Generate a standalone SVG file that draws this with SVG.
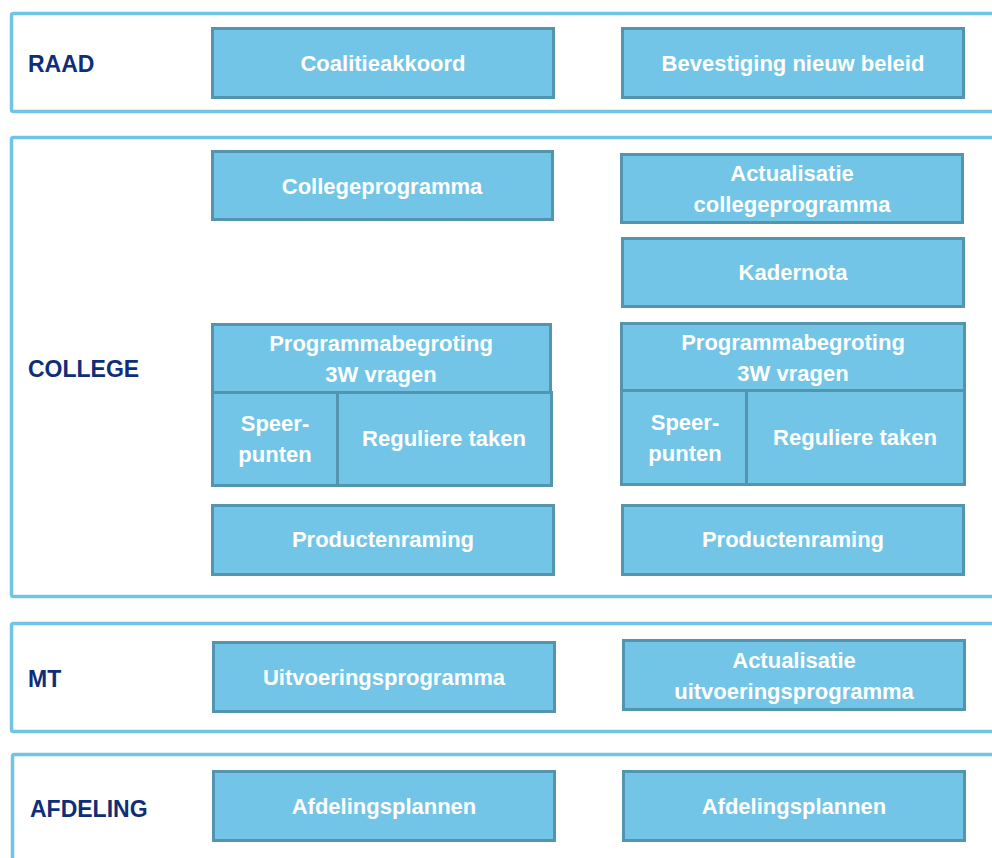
<svg xmlns="http://www.w3.org/2000/svg" width="992" height="858" viewBox="0 0 992 858">
<style>
.band{fill:#fff;stroke:#70C4E4;stroke-width:3.5}
.node rect{fill:#72C5E6;stroke:#5395AE;stroke-width:3}
.node text{fill:#fff;font-family:"Liberation Sans",Arial,sans-serif;font-weight:bold;font-size:22px;text-anchor:middle}
.lbl{fill:#0E2E78;font-family:"Liberation Sans",Arial,sans-serif;font-weight:bold;font-size:23px}
</style>
<rect width="992" height="858" fill="#fff"/>
<g id="bands">
<rect class="band" x="11.5" y="13.5" width="1000" height="98" rx="2"/>
<rect class="band" x="11.5" y="137.5" width="1000" height="459" rx="2"/>
<rect class="band" x="11.5" y="623.5" width="1000" height="108" rx="2"/>
<rect class="band" x="12.5" y="754.5" width="1000" height="120" rx="2"/>
</g>
<g id="labels">
<text class="lbl" x="28" y="72">RAAD</text>
<text class="lbl" x="28" y="377">COLLEGE</text>
<text class="lbl" x="28" y="687">MT</text>
<text class="lbl" x="30" y="817">AFDELING</text>
</g>
<g id="coalitieakkoord" class="node"><rect x="212.5" y="28.5" width="341" height="69"/><text x="383" y="71">Coalitieakkoord</text></g>
<g id="bevestiging" class="node"><rect x="622.5" y="28.5" width="341" height="69"/><text x="793" y="71">Bevestiging nieuw beleid</text></g>
<g id="collegeprogramma" class="node"><rect x="212.5" y="151.5" width="340" height="68"/><text x="382" y="194">Collegeprogramma</text></g>
<g id="actualisatie-college" class="node"><rect x="621.5" y="154.5" width="341" height="68"/><text x="792" y="181">Actualisatie</text><text x="792" y="212">collegeprogramma</text></g>
<g id="kadernota" class="node"><rect x="622.5" y="238.5" width="341" height="68"/><text x="793" y="280">Kadernota</text></g>
<g id="programmabegroting-l" class="node"><rect x="212.5" y="324.5" width="338" height="68"/><text x="381" y="351">Programmabegroting</text><text x="381" y="382">3W vragen</text></g>
<g id="speerpunten-l" class="node"><rect x="212.5" y="392.5" width="125" height="93"/><text x="275" y="431">Speer-</text><text x="275" y="462">punten</text></g>
<g id="reguliere-l" class="node"><rect x="337.5" y="392.5" width="214" height="93"/><text x="444" y="446">Reguliere taken</text></g>
<g id="productenraming-l" class="node"><rect x="212.5" y="505.5" width="341" height="69"/><text x="383" y="547">Productenraming</text></g>
<g id="programmabegroting-r" class="node"><rect x="621.5" y="323.5" width="343" height="67"/><text x="793" y="350">Programmabegroting</text><text x="793" y="381">3W vragen</text></g>
<g id="speerpunten-r" class="node"><rect x="621.5" y="390.5" width="125" height="94"/><text x="685" y="430">Speer-</text><text x="685" y="461">punten</text></g>
<g id="reguliere-r" class="node"><rect x="746.5" y="390.5" width="218" height="94"/><text x="855" y="445">Reguliere taken</text></g>
<g id="productenraming-r" class="node"><rect x="622.5" y="505.5" width="341" height="69"/><text x="793" y="547">Productenraming</text></g>
<g id="uitvoeringsprogramma" class="node"><rect x="213.5" y="642.5" width="341" height="69"/><text x="384" y="685">Uitvoeringsprogramma</text></g>
<g id="actualisatie-uitvoering" class="node"><rect x="623.5" y="640.5" width="341" height="69"/><text x="794" y="668">Actualisatie</text><text x="794" y="699">uitvoeringsprogramma</text></g>
<g id="afdelingsplannen-l" class="node"><rect x="213.5" y="771.5" width="341" height="69"/><text x="384" y="814">Afdelingsplannen</text></g>
<g id="afdelingsplannen-r" class="node"><rect x="623.5" y="771.5" width="341" height="69"/><text x="794" y="814">Afdelingsplannen</text></g>
<g id="connectors"></g>
</svg>
